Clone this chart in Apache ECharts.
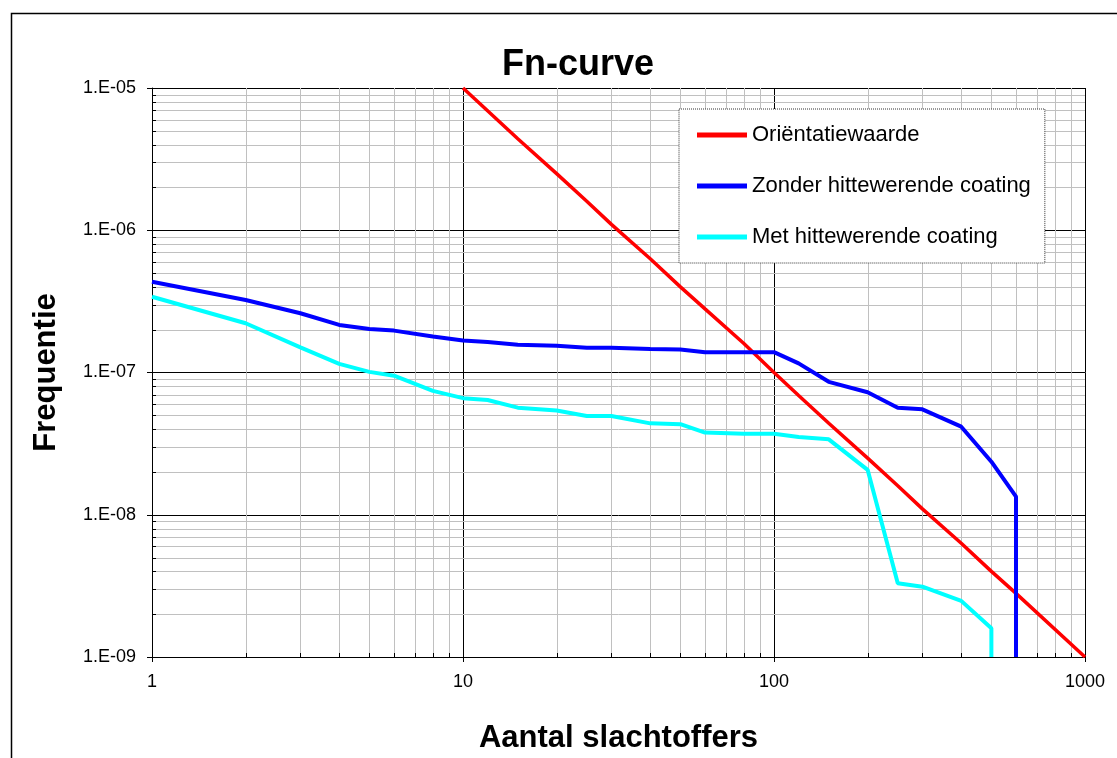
<!DOCTYPE html>
<html>
<head>
<meta charset="utf-8">
<script src="https://cdn.jsdelivr.net/npm/echarts@6/dist/echarts.min.js"></script>
<style>
  html, body { margin: 0; padding: 0; background: #fff; }
  #fn { width: 1117px; height: 758px; }
</style>
</head>
<body>
<div id="fn"></div>
<script>
// aantal slachtoffers (N) en frequentie per curve
const nOrient = [10, 15, 20, 25, 30, 40, 50, 60, 80, 100, 120, 150, 200, 250, 300, 400, 500, 600, 1000]
const fOrient = [1e-5, 4.4e-6, 2.5e-6, 1.6e-6, 1.1e-6, 6.3e-7, 4e-7, 2.8e-7, 1.6e-7, 1e-7, 6.9e-8, 4.4e-8, 2.5e-8, 1.6e-8, 1.1e-8, 6.3e-9, 4e-9, 2.8e-9, 1e-9]

const nZonder = [1, 2, 3, 4, 5, 6, 8, 10, 12, 15, 20, 25, 30, 40, 50, 60, 80, 100, 120, 150, 200, 250, 300, 400, 500, 600, 600]
const fZonder = [4.35e-7, 3.23e-7, 2.61e-7, 2.16e-7, 2.02e-7, 1.97e-7, 1.79e-7, 1.68e-7, 1.64e-7, 1.57e-7, 1.54e-7, 1.49e-7, 1.49e-7, 1.46e-7, 1.45e-7, 1.39e-7, 1.39e-7, 1.39e-7, 1.16e-7, 8.6e-8, 7.26e-8, 5.66e-8, 5.51e-8, 4.16e-8, 2.36e-8, 1.34e-8, 1e-9]

const nMet = [1, 2, 3, 4, 5, 6, 8, 10, 12, 15, 20, 25, 30, 40, 50, 60, 80, 100, 120, 150, 200, 250, 300, 400, 500, 500]
const fMet = [3.41e-7, 2.22e-7, 1.5e-7, 1.15e-7, 1.01e-7, 9.5e-8, 7.43e-8, 6.6e-8, 6.41e-8, 5.66e-8, 5.4e-8, 4.95e-8, 4.95e-8, 4.39e-8, 4.33e-8, 3.78e-8, 3.71e-8, 3.71e-8, 3.52e-8, 3.39e-8, 2.07e-8, 3.3e-9, 3.12e-9, 2.48e-9, 1.59e-9, 1e-9]

// hulplijnen tussen de decaden
const xMinor = [2, 3, 4, 5, 6, 7, 8, 9, 20, 30, 40, 50, 60, 70, 80, 90, 200, 300, 400, 500, 600, 700, 800, 900]
const yMinor = [2e-9, 3e-9, 4e-9, 5e-9, 6e-9, 7e-9, 8e-9, 9e-9,
  2e-8, 3e-8, 4e-8, 5e-8, 6e-8, 7e-8, 8e-8, 9e-8,
  2e-7, 3e-7, 4e-7, 5e-7, 6e-7, 7e-7, 8e-7, 9e-7,
  2e-6, 3e-6, 4e-6, 5e-6, 6e-6, 7e-6, 8e-6, 9e-6]

const xMin = 1, xMax = 1000, yMin = 1e-9, yMax = 1e-5
const font = 'Liberation Sans, Arial, sans-serif'

function pairs (xs, ys) {
  return xs.map((x, i) => [x, ys[i]])
}

function crisp (v) {
  return Math.round(v) + 0.5
}

const chart = echarts.init(document.getElementById('fn'))

const option = {
  animation: false,
  backgroundColor: '#fff',
  textStyle: { fontFamily: font },
  title: {
    text: 'Fn-curve',
    left: 573,
    textAlign: 'center',
    top: 42,
    textStyle: { fontSize: 36, fontWeight: 'bold', color: '#000', fontFamily: font }
  },
  graphic: [{
    type: 'rect',
    shape: { x: 11.5, y: 13.5, width: 1200, height: 800 },
    style: { fill: 'none', stroke: '#000', lineWidth: 1.5 },
    silent: true,
    z: -10
  }],
  legend: {
    orient: 'vertical',
    left: 679,
    top: 109,
    data: ['Oriëntatiewaarde', 'Zonder hittewerende coating', 'Met hittewerende coating'],
    icon: 'rect',
    itemWidth: 50,
    itemHeight: 5,
    itemGap: 29,
    padding: [15, 14, 15, 18],
    backgroundColor: '#fff',
    borderColor: '#333',
    borderWidth: 1,
    borderType: 'dotted',
    textStyle: { fontSize: 22, color: '#000', fontFamily: font, padding: [0, 0, 0, 0] }
  },
  grid: {
    left: 152,
    right: 32,
    top: 88,
    bottom: 101,
    containLabel: false,
    outerBoundsMode: 'none'
  },
  xAxis: {
    type: 'log',
    logBase: 10,
    min: xMin,
    max: xMax,
    name: 'Aantal slachtoffers',
    nameLocation: 'middle',
    nameGap: 66,
    nameTextStyle: { fontSize: 31, fontWeight: 'bold', color: '#000', fontFamily: font },
    axisLine: { show: true, lineStyle: { color: '#000', width: 1 } },
    axisTick: { show: true, length: 5, lineStyle: { color: '#000' } },
    axisLabel: {
      fontSize: 18,
      color: '#000',
      margin: 16,
      fontFamily: font,
      formatter: function (v) {
        return String(Math.round(v))
      }
    },
    splitLine: { show: true, lineStyle: { color: '#000', width: 1 } }
  },
  yAxis: {
    type: 'log',
    logBase: 10,
    min: yMin,
    max: yMax,
    name: 'Frequentie',
    nameLocation: 'middle',
    nameRotate: 90,
    nameGap: 90,
    nameTextStyle: { fontSize: 31, fontWeight: 'bold', color: '#000', fontFamily: font },
    axisLine: { show: true, lineStyle: { color: '#000', width: 1 } },
    axisTick: { show: true, length: 5, lineStyle: { color: '#000' } },
    axisLabel: {
      fontSize: 18,
      color: '#000',
      margin: 16,
      fontFamily: font,
      formatter: function (v) {
        const e = Math.round(Math.log10(v))
        const s = String(Math.abs(e)).padStart(2, '0')
        return '1.E' + (e < 0 ? '-' : '+') + s
      }
    },
    splitLine: { show: true, lineStyle: { color: '#000', width: 1 } }
  },
  series: [
    {
      name: 'xminor',
      type: 'custom',
      silent: true,
      z: 0,
      data: xMinor.map(v => [v, yMin]),
      renderItem: function (params, api) {
        const v = api.value(0)
        const top = api.coord([v, yMax])
        const bot = api.coord([v, yMin])
        const x = crisp(bot[0])
        return {
          type: 'group',
          children: [
            { type: 'line', shape: { x1: x, y1: top[1], x2: x, y2: bot[1] }, style: { stroke: '#c0c0c0', lineWidth: 1 } },
            { type: 'line', shape: { x1: x, y1: bot[1], x2: x, y2: bot[1] - 4 }, style: { stroke: '#000', lineWidth: 1 } }
          ]
        }
      }
    },
    {
      name: 'yminor',
      type: 'custom',
      silent: true,
      z: 0,
      data: yMinor.map(v => [xMin, v]),
      renderItem: function (params, api) {
        const v = api.value(1)
        const l = api.coord([xMin, v])
        const r = api.coord([xMax, v])
        const y = crisp(l[1])
        return {
          type: 'group',
          children: [
            { type: 'line', shape: { x1: l[0], y1: y, x2: r[0], y2: y }, style: { stroke: '#c0c0c0', lineWidth: 1 } },
            { type: 'line', shape: { x1: l[0], y1: y, x2: l[0] + 4, y2: y }, style: { stroke: '#000', lineWidth: 1 } }
          ]
        }
      }
    },
    {
      name: 'Oriëntatiewaarde',
      type: 'line',
      z: 5,
      symbol: 'none',
      color: '#ff0000',
      lineStyle: { color: '#ff0000', width: 3.5 },
      data: pairs(nOrient, fOrient)
    },
    {
      name: 'Zonder hittewerende coating',
      type: 'line',
      z: 5,
      symbol: 'none',
      color: '#0000ff',
      lineStyle: { color: '#0000ff', width: 4 },
      data: pairs(nZonder, fZonder)
    },
    {
      name: 'Met hittewerende coating',
      type: 'line',
      z: 5,
      symbol: 'none',
      color: '#00ffff',
      lineStyle: { color: '#00ffff', width: 4 },
      data: pairs(nMet, fMet)
    }
  ]
}

chart.setOption(option)
</script>
</body>
</html>
